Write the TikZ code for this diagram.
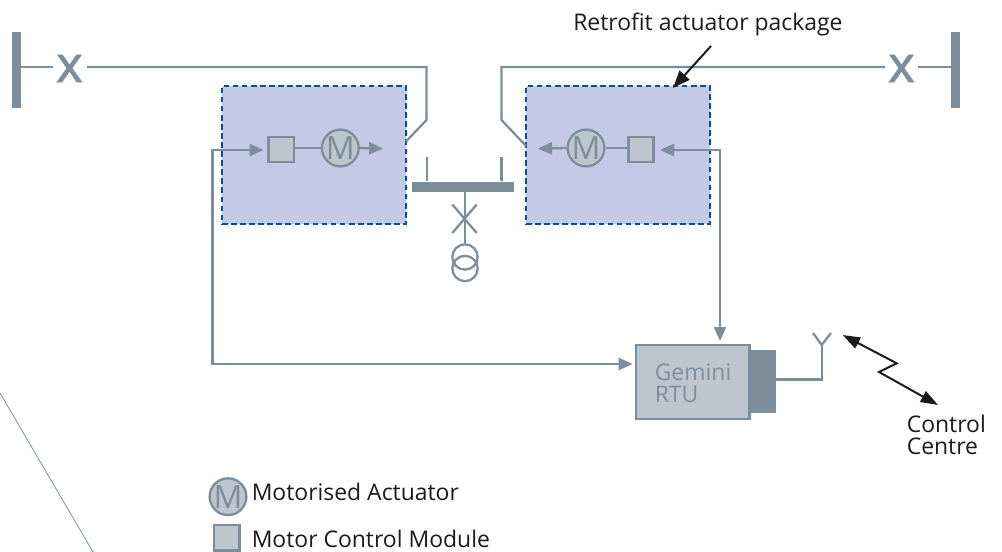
\documentclass[tikz,border=0pt]{standalone}
\usepackage{fontspec}
\setmainfont{Open Sans}
\newfontfamily\xfont[FakeBold=1.6]{Open Sans}
\usetikzlibrary{arrows.meta}
\definecolor{ln}{HTML}{7C8E9C}
\definecolor{pale}{HTML}{BDC5CF}
\definecolor{lilac}{HTML}{C4C9E6}
\definecolor{dash}{HTML}{0050A4}
\definecolor{ink}{HTML}{1C1A1B}
\tikzset{
  x=0.75pt,y=-0.75pt,
  wire/.style={draw=ln,line width=1.7pt,line join=miter},
  sig/.style={wire,-{Triangle[length=10.5pt,width=9pt]}},
  sigboth/.style={wire,{Triangle[length=10.5pt,width=9pt]}-{Triangle[length=10.5pt,width=9pt]}},
  callout/.style={draw=ink,line width=1.5pt,-{Triangle[length=13pt,width=10pt]}},
  callboth/.style={draw=ink,line width=1.5pt,{Triangle[length=13pt,width=9pt]}-{Triangle[length=13pt,width=9pt]}},
  package/.style={draw=dash,fill=lilac,line width=1.8pt,dash pattern=on 4.2pt off 2.6pt,inner sep=0pt,minimum width=138pt,minimum height=103.5pt},
  module/.style={draw=ln,fill=pale,line width=1.9pt,inner sep=0pt,minimum size=19pt},
  motor/.style={circle,draw=ln,fill=pale,line width=1.7pt,inner sep=0pt,minimum size=25.9pt,text=ln,font=\fontsize{24}{24}\selectfont},
  bar/.style={fill=ln,inner sep=0pt},
  brk/.style={inner sep=0pt,text=ln,font=\fontsize{38}{38}\xfont},
  lab/.style={inner sep=0pt,anchor=base west,text=ink,font=\fontsize{17.2}{16.3}\selectfont,align=left},
  coil/.style={circle,draw=ln,line width=1.7pt,inner sep=0pt,minimum size=19pt},
}
\begin{document}
\begin{tikzpicture}
\useasboundingbox (0,0) rectangle (1002,552);
% thin stray line
\coordinate (sa) at (0,393);
\coordinate (sb) at (93,552);
\draw[ln,line width=0.6pt] (sa) -- (sb);
% end bars
\node[bar,minimum width=6.75pt,minimum height=57pt] (barL) at (16.5,70) {};
\node[bar,minimum width=6.75pt,minimum height=57pt] (barR) at (955.5,70) {};
% packages
\node[package] (pkL) at (314,155) {};
\node[package] (pkR) at (618,155) {};
% breakers
\node[brk] (xL) at (69.5,68.5) {x};
\node[brk] (xR) at (901.5,68.5) {x};
\coordinate (xLw) at (53,67);
\coordinate (xLe) at (87,67);
\coordinate (xRw) at (885,67);
\coordinate (xRe) at (918,67);
\coordinate (cornerL) at (426.5,67);
\coordinate (kneeL) at (426.5,120);
\coordinate (tipL) at (406,141.5);
\coordinate (cornerR) at (501.5,67);
\coordinate (kneeR) at (501.5,120);
\coordinate (tipR) at (526,146);
\draw[wire] (barL.east |- xLw) -- (xLw);
\draw[wire] (barR.west |- xRe) -- (xRe);
\draw[wire] (xLe) -- (cornerL) -- (kneeL) -- (tipL);
\draw[wire] (xRw) -- (cornerR) -- (kneeR) -- (tipR);
% central bus
\node[bar,minimum width=76.5pt,minimum height=7.5pt] (bus) at (463,186.7) {};
\coordinate (stubL) at (427,157);
\coordinate (stubR) at (501.5,157);
\draw[wire] (stubL) -- (stubL |- bus.north);
\draw[wire] (stubR) -- (stubR |- bus.north);
\node[coil] (coilA) at (465,257) {};
\node[coil] (coilB) at (465,268.5) {};
\draw[wire] (coilA.north |- bus.south) -- (coilA.north);
\coordinate (xa) at (452.3,204.5);
\coordinate (xb) at (476.7,233);
\coordinate (xc) at (476.7,204.5);
\coordinate (xd) at (452.3,233);
\draw[wire] (xa) -- (xb);
\draw[wire] (xc) -- (xd);
% left package content
\node[module] (sqL) at (281.3,149.5) {};
\node[motor] (mL) at (340.3,148) {M};
\coordinate (outL) at (383,148.7);
\draw[wire] (sqL.east |- mL.west) -- (mL.west);
\draw[sig] (mL.east) -- (outL);
% right package content
\node[module] (sqR) at (641,149.5) {};
\node[motor] (mR) at (586,148) {M};
\coordinate (outR) at (538,148.7);
\draw[wire] (sqR.west |- mR.east) -- (mR.east);
\draw[sig] (mR.west) -- (outR);
% RTU
\node[bar,minimum width=20pt,minimum height=47.25pt] (rtuB) at (763,381.5) {};
\node[draw=ln,fill=pale,line width=1.7pt,inner sep=0pt,minimum width=85pt,minimum height=55pt] (rtu) at (692.8,382) {};
\node[lab,text=ln] (rtuT) at (654.5,402.3) {Gemini\\RTU};
% control wiring
\coordinate (inL) at (263.5,150);
\coordinate (cL) at (212.5,364);
\coordinate (rtuW) at (632.7,364);
\draw[sigboth] (inL) -| (cL) -- (rtuW);
\coordinate (inR) at (660,150);
\coordinate (rtuN) at (720,341);
\draw[sigboth] (inR) -| (rtuN);
% antenna
\coordinate (ant) at (821.7,345);
\coordinate (antA) at (813,333);
\coordinate (antB) at (831,333);
\coordinate (antF) at (776,379.5);
\draw[wire] (antF) -| (ant);
\draw[wire] (antA) -- (ant) -- (antB);
% radio link
\coordinate (ra) at (842.7,335);
\coordinate (rb) at (896.7,363.3);
\coordinate (rc) at (879,372);
\coordinate (rd) at (938,405);
\draw[callboth] (ra) -- (rb) -- (rc) -- (rd);
\node[lab] (cc) at (906.5,454.2) {Control\\Centre};
% callout
\node[lab] (rf) at (573,31) {Retrofit actuator package};
\coordinate (rfS) at (711,46);
\coordinate (rfE) at (673,88);
\draw[callout] (rfS) -- (rfE);
% legend
\node[motor] (lgM) at (228,496.7) {M};
\node[lab] (lgMt) at (251.5,500.3) {Motorised Actuator};
\node[module] (lgS) at (226.7,537.8) {};
\node[lab] (lgSt) at (251.5,547) {Motor Control Module};
\end{tikzpicture}
\end{document}
